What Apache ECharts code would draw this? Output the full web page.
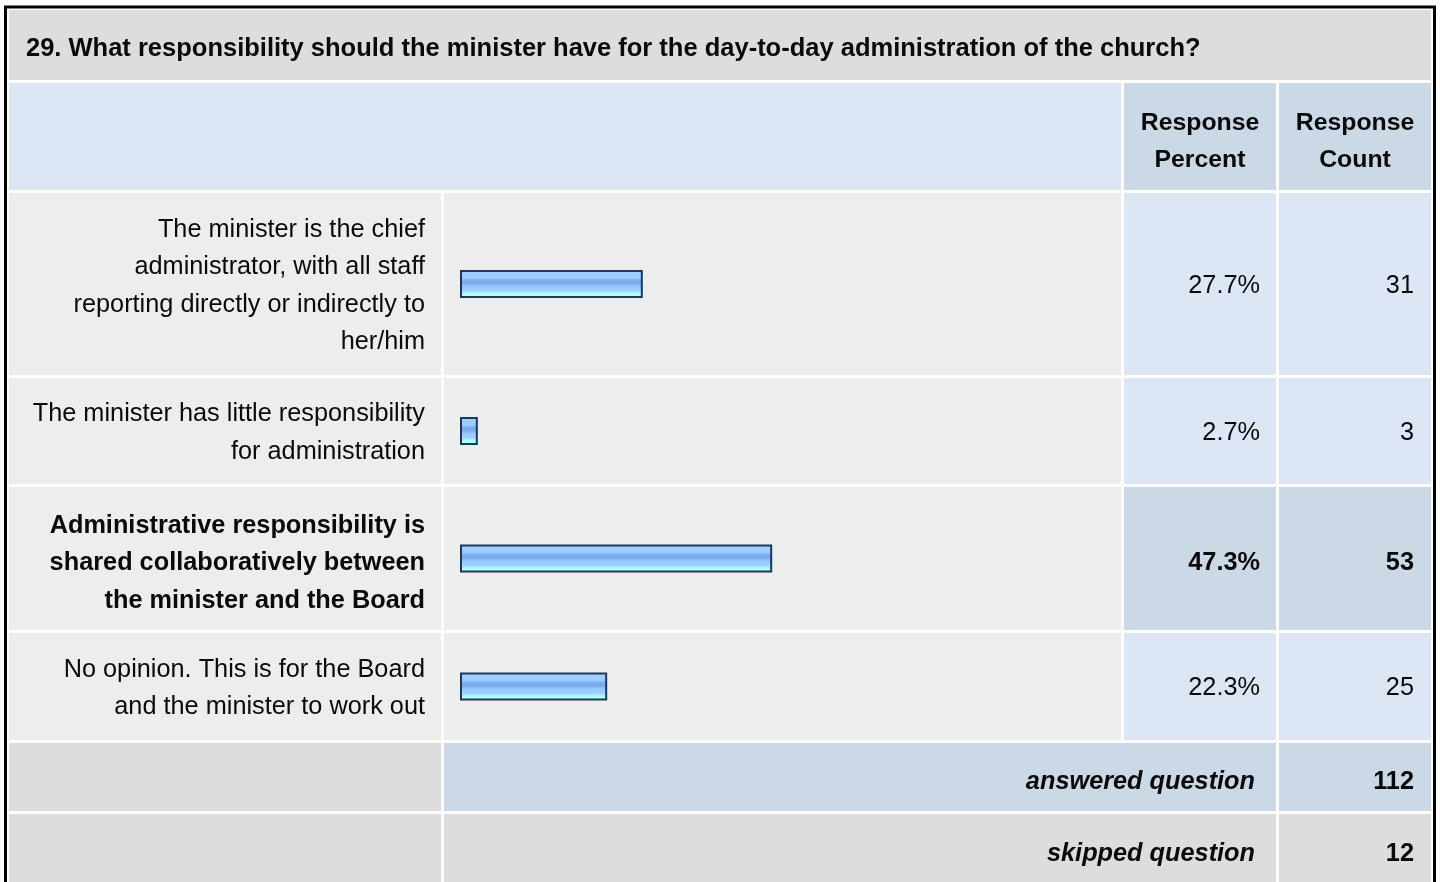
<!DOCTYPE html>
<html>
<head>
<meta charset="utf-8">
<title>Question 29 – Minister's administrative responsibility</title>
<script src="https://cdn.jsdelivr.net/npm/echarts@6/dist/echarts.min.js"></script>
<style>
  html, body { margin: 0; padding: 0; background: #ffffff; }
  #chart { width: 1440px; height: 882px; }
</style>
</head>
<body>
<div id="chart"></div>
<script>
// Survey question and answer data
const questionTitle = '29. What responsibility should the minister have for the day-to-day administration of the church?';
const answerChoices = [
  'The minister is the chief\nadministrator, with all staff\nreporting directly or indirectly to\nher/him',
  'The minister has little responsibility\nfor administration',
  'Administrative responsibility is\nshared collaboratively between\nthe minister and the Board',
  'No opinion. This is for the Board\nand the minister to work out'
];
const responsePercent = [27.7, 2.7, 47.3, 22.3];
const responseCount = [31, 3, 53, 25];
const highlightedRow = 2;            // the most common answer is shown in bold
const headerLabels = ['Response\nPercent', 'Response\nCount'];
const summaryLabels = ['answered question', 'skipped question'];
const summaryCounts = [112, 12];

// Table geometry (columns and rows, in pixels)
const FONT_FAMILY = 'Liberation Sans';
const cols = [[9, 441], [444, 1121], [1124, 1276], [1279, 1431]];
const titleRow = [10, 80];
const headerRow = [83, 190];
const rows = [[193, 375], [378, 484], [487, 630], [633, 740]];
const summaryRows = [[743, 811], [814, 900]];

const C_GREY = '#dddddd';
const C_LIGHT = '#ededed';
const C_BLUE = '#dce6f4';
const C_BLUE_DARK = '#cbd8e6';
const TEXT = '#0a0a0a';

const graphics = [];
function cell(x0, x1, y0, y1, fill) {
  graphics.push({ type: 'rect', z: 0, silent: true,
    shape: { x: x0, y: y0, width: x1 - x0, height: y1 - y0 },
    style: { fill: fill } });
}
function label(text, x, y, align, weight, italic, size) {
  graphics.push({ type: 'text', z: 5, silent: true, x: x, y: y,
    style: {
      text: text, fill: TEXT, align: align, verticalAlign: 'middle',
      fontFamily: FONT_FAMILY, fontSize: size || 25.3, fontWeight: weight,
      fontStyle: italic ? 'italic' : 'normal',
      lineHeight: 37.5
    } });
}

// Outer frame
graphics.push({ type: 'rect', z: 10, silent: true,
  shape: { x: 5.5, y: 7, width: 1429, height: 920 },
  style: { fill: null, stroke: '#000000', lineWidth: 3 } });

// Title row
cell(cols[0][0], cols[3][1], titleRow[0], titleRow[1], C_GREY);
label(questionTitle, 26, 49, 'left', 'bold', false, 25.5);

// Header row
cell(cols[0][0], cols[1][1], headerRow[0], headerRow[1], C_BLUE);
cell(cols[2][0], cols[2][1], headerRow[0], headerRow[1], C_BLUE_DARK);
cell(cols[3][0], cols[3][1], headerRow[0], headerRow[1], C_BLUE_DARK);
const headerMid = (headerRow[0] + headerRow[1]) / 2 + 5;
label(headerLabels[0], (cols[2][0] + cols[2][1]) / 2, headerMid, 'center', 'bold', false, 24.8);
label(headerLabels[1], (cols[3][0] + cols[3][1]) / 2, headerMid, 'center', 'bold', false, 24.8);

// Answer rows
rows.forEach(function (r, i) {
  const bold = i === highlightedRow;
  const mid = (r[0] + r[1]) / 2 + (bold ? 5 : 2);
  cell(cols[0][0], cols[0][1], r[0], r[1], C_LIGHT);
  cell(cols[1][0], cols[1][1], r[0], r[1], C_LIGHT);
  cell(cols[2][0], cols[2][1], r[0], r[1], bold ? C_BLUE_DARK : C_BLUE);
  cell(cols[3][0], cols[3][1], r[0], r[1], bold ? C_BLUE_DARK : C_BLUE);
  const w = bold ? 'bold' : 'normal';
  label(answerChoices[i], 425, mid, 'right', w);
  label(responsePercent[i].toFixed(1) + '%', 1260, mid, 'right', w);
  label(String(responseCount[i]), 1414, mid, 'right', w);
});

// Summary rows
summaryRows.forEach(function (r, i) {
  const fill = i === 0 ? C_BLUE_DARK : C_GREY;
  cell(cols[0][0], cols[0][1], r[0], r[1], C_GREY);
  cell(cols[1][0], cols[2][1], r[0], r[1], fill);
  cell(cols[3][0], cols[3][1], r[0], r[1], fill);
  const y = i === 0 ? 782 : 854;
  label(summaryLabels[i], 1255, y, 'right', 'bold', true);
  label(String(summaryCounts[i]), 1414, y, 'right', 'bold');
});

// Striped blue fill used by every response bar
const barFill = new echarts.graphic.LinearGradient(0, 0, 0, 1, [
  { offset: 0.00, color: '#9fd0ff' },
  { offset: 0.30, color: '#9acdff' },
  { offset: 0.32, color: '#88bcf5' },
  { offset: 0.40, color: '#78acef' },
  { offset: 0.50, color: '#78acef' },
  { offset: 0.53, color: '#8abef7' },
  { offset: 0.62, color: '#99ccff' },
  { offset: 0.74, color: '#9bd0ff' },
  { offset: 0.78, color: '#a8e6ff' },
  { offset: 0.86, color: '#b2ffff' },
  { offset: 1.00, color: '#b2ffff' }
]);

// One small grid per answer row so each bar sits in its own table cell
const grids = [], xAxes = [], yAxes = [], series = [];
rows.forEach(function (r, i) {
  const mid = (r[0] + r[1]) / 2;
  grids.push({ left: 460, width: 660, top: mid - 15, height: 30 });
  xAxes.push({ type: 'value', gridIndex: i, min: 0, max: 100, show: false });
  yAxes.push({ type: 'category', gridIndex: i, data: [answerChoices[i]], show: false });
  series.push({
    type: 'bar', xAxisIndex: i, yAxisIndex: i,
    data: [responsePercent[i]],
    barWidth: 28,
    silent: true,
    z: 6,
    itemStyle: { color: barFill, borderColor: '#1d3659', borderWidth: 2 }
  });
});

const chart = echarts.init(document.getElementById('chart'), null, { renderer: 'canvas' });
chart.setOption({
  backgroundColor: '#ffffff',
  animation: false,
  grid: grids,
  xAxis: xAxes,
  yAxis: yAxes,
  series: series,
  graphic: { elements: graphics }
});
</script>
</body>
</html>
